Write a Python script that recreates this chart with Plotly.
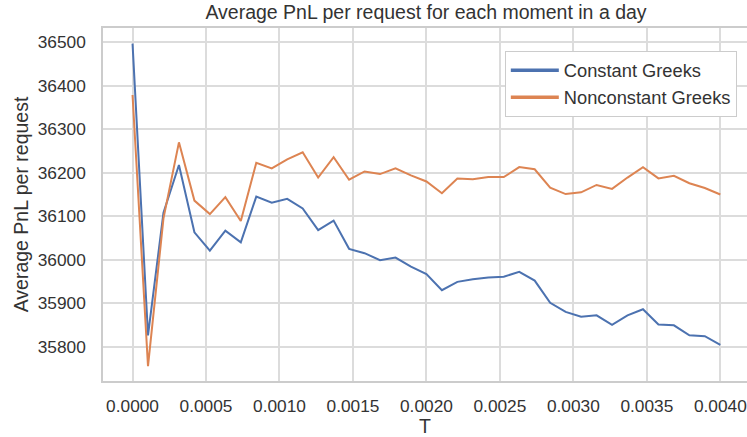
import plotly.graph_objects as go

T = [0.0, 0.0001053, 0.0002105, 0.0003158, 0.0004211, 0.0005263, 0.0006316, 0.0007368,
     0.0008421, 0.0009474, 0.0010526, 0.0011579, 0.0012632, 0.0013684, 0.0014737, 0.0015789,
     0.0016842, 0.0017895, 0.0018947, 0.002, 0.0021053, 0.0022105, 0.0023158, 0.0024211,
     0.0025263, 0.0026316, 0.0027368, 0.0028421, 0.0029474, 0.0030526, 0.0031579, 0.0032632,
     0.0033684, 0.0034737, 0.0035789, 0.0036842, 0.0037895, 0.0038947, 0.004]

constant = [36497, 35826, 36108, 36218, 36063, 36021, 36067, 36040, 36145, 36131,
            36140, 36118, 36068, 36090, 36025, 36015, 35999, 36005, 35984, 35967,
            35930, 35949, 35955, 35959, 35961, 35972, 35952, 35901, 35880, 35869,
            35872, 35850, 35872, 35886, 35851, 35849, 35826, 35824, 35804]

nonconstant = [36379, 35755, 36095, 36270, 36136, 36105, 36144, 36089, 36223, 36210,
               36231, 36247, 36189, 36236, 36184, 36203, 36197, 36210, 36194, 36180,
               36153, 36187, 36185, 36190, 36190, 36213, 36208, 36166, 36151, 36155,
               36172, 36163, 36189, 36213, 36187, 36193, 36176, 36165, 36150]

series_names = ["Constant Greeks", "Nonconstant Greeks"]
colors = ["#4C72B0", "#DD8452"]

FONT = "Liberation Sans, Arial, sans-serif"
TXT = "#333333"
GRID = "#dcdcdc"

W, H = 747, 437

fig = go.Figure()
for name, ys, c in zip(series_names, [constant, nonconstant], colors):
    fig.add_trace(go.Scatter(x=T, y=ys, mode="lines", name=name,
                             line=dict(color=c, width=2), showlegend=False))
# legend entries (thicker lines as in reference legend)
for name, c in zip(series_names, colors):
    fig.add_trace(go.Scatter(x=[None], y=[None], mode="lines", name=name,
                             line=dict(color=c, width=3.5), showlegend=True))

fig.update_layout(
    width=W, height=H,
    margin=dict(l=103, r=0, t=28, b=56),
    paper_bgcolor="white", plot_bgcolor="white",
    font=dict(family=FONT, color=TXT, size=17),
    title=dict(text="Average PnL per request for each moment in a day",
               x=426 / W, xanchor="center", y=1 - 12.5 / H, yanchor="middle",
               font=dict(size=19.5, color=TXT)),
    showlegend=True,
    legend=dict(x=(505 - 103) / 644.3, y=0.935, xanchor="left", yanchor="top",
                bgcolor="white", bordercolor="#cccccc", borderwidth=1,
                font=dict(size=18.3, color=TXT), traceorder="normal",
                itemwidth=48),
)
fig.update_xaxes(
    range=[-0.000201, 0.0041816], tickmode="linear", tick0=0, dtick=0.0005,
    tickformat=".4f", showgrid=True, gridcolor=GRID, gridwidth=1.5,
    showline=True, linecolor="#cccccc", linewidth=1.5, mirror=True,
    zeroline=False, ticks="", ticklabelstandoff=8, automargin=False,
    tickfont=dict(size=17.3, color=TXT),
    title=dict(text="T", font=dict(size=19.5, color=TXT), standoff=2),
)
fig.update_yaxes(
    range=[35721, 36533], tickmode="linear", tick0=35800, dtick=100,
    tickformat="d", showgrid=True, gridcolor=GRID, gridwidth=1.5,
    showline=True, linecolor="#cccccc", linewidth=1.5, mirror=True,
    zeroline=False, ticks="", ticklabelstandoff=12, automargin=False,
    tickfont=dict(size=17.3, color=TXT),
    title=dict(text="Average PnL per request", font=dict(size=19.5, color=TXT), standoff=4),
)

# remove the browser's default 8px page margin so the figure fills the window
fig.write_html("out.html", config={"displayModeBar": False},
               post_script="document.body.style.margin='0';")
